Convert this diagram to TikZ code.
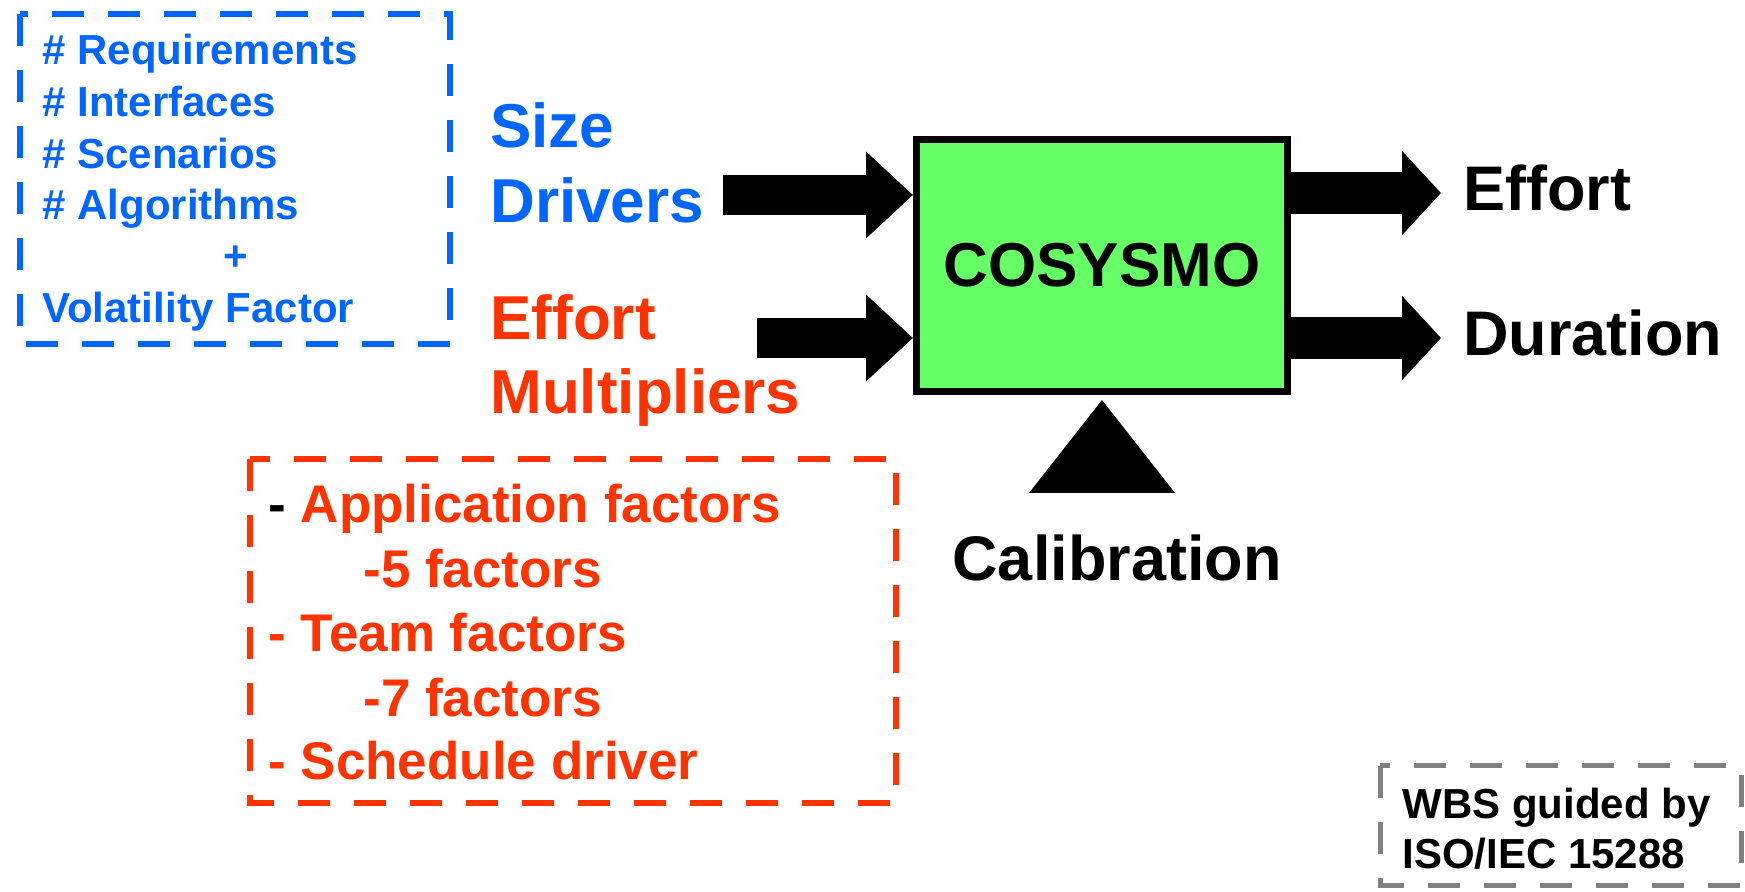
\documentclass[tikz,border=0pt]{standalone}
\usepackage{fontspec}
\setmainfont{Liberation Sans}
\usetikzlibrary{arrows.meta}
\definecolor{size_blue}{RGB}{0,102,255}
\definecolor{mult_red}{RGB}{255,51,0}
\definecolor{model_green}{RGB}{102,255,102}
\definecolor{wbs_gray}{RGB}{128,128,128}

\begin{document}
\begin{tikzpicture}[x=0.5pt,y=-0.5pt]
    \tikzstyle{txt}=[inner sep=0pt, anchor=base west]
    \tikzstyle{item_blue}=[style=txt, text=size_blue, font=\fontsize{21pt}{25pt}\selectfont\bfseries]
    \tikzstyle{item_red}=[style=txt, text=mult_red, font=\fontsize{26.5pt}{32pt}\selectfont\bfseries]
    \tikzstyle{head_lbl}=[style=txt, font=\fontsize{31pt}{37pt}\selectfont\bfseries]
    \tikzstyle{out_lbl}=[style=txt, text=black, font=\fontsize{31.5pt}{38pt}\selectfont\bfseries]
    \tikzstyle{wbs_lbl}=[style=txt, text=black, font=\fontsize{21pt}{25pt}\selectfont\bfseries]
    \tikzstyle{box_dash}=[line width=3pt, dash pattern=on 16pt off 12pt]
    \tikzstyle{model_box}=[draw=black, line width=3.5pt, fill=model_green, minimum width=185.5pt, minimum height=126pt, inner sep=0pt, font=\fontsize{31pt}{37pt}\selectfont\bfseries]
    \tikzstyle{block_arrow}=[line width=20pt, -{Triangle[length=23.5pt, width=42pt]}]
    \tikzstyle{block_out}=[line width=21pt, -{Triangle[length=19.5pt, width=41pt]}]

    \useasboundingbox (0,0) rectangle (1745,892);

    % size drivers
    \draw[box_dash, size_blue] (20,14) rectangle (450,344);
    \foreach \t [count=\i from 0] in {\# Requirements, \# Interfaces, \# Scenarios, \# Algorithms}
        \node[item_blue] (drv\i) at (42,{65+51.6*\i}) {\t};
    \node[item_blue, anchor=base] (plus) at (236,271) {+};
    \node[item_blue]              (vol)  at (42,323)  {Volatility Factor};
    \node[head_lbl, text=size_blue] (size)    at (490,148) {Size};
    \node[head_lbl, text=size_blue] (drivers) at (490,223) {Drivers};

    % effort multipliers
    \node[head_lbl, text=mult_red] (effin) at (490,340) {Effort};
    \node[head_lbl, text=mult_red] (mult)  at (490,414) {Multipliers};
    \draw[box_dash, mult_red] (250,459) rectangle (896,803);
    \node[item_red] (app)   at (268,523) {\textcolor{black}{-} Application factors};
    \node[item_red] (app5)  at (363,588) {-5 factors};
    \node[item_red] (team)  at (268,651) {- Team factors};
    \node[item_red] (team7) at (363,716) {-7 factors};
    \node[item_red] (sched) at (268,779) {- Schedule driver};

    % model
    \node[model_box] (cosysmo) at (1102,265.5) {COSYSMO};
    \node[out_lbl] (effort)   at (1463,211) {Effort};
    \node[out_lbl] (duration) at (1463,356) {Duration};
    \node[out_lbl, anchor=base] (calib) at (1117,581) {Calibration};
    \fill (cosysmo.south) ++(0,5) -- ++(73,93) -- ++(-146,0) -- cycle;

    \coordinate (size_in)   at (723,195);
    \coordinate (mult_in)   at (757,338);
    \coordinate (effort_at) at (1441,193);
    \coordinate (dur_at)    at (1441,338);
    \path
     (size_in) edge[block_arrow] (cosysmo.west |- size_in)
     (mult_in) edge[block_arrow] (cosysmo.west |- mult_in)
     (cosysmo.east |- effort_at) edge[block_out] (effort_at)
     (cosysmo.east |- dur_at)    edge[block_out] (dur_at)
     ;

    % wbs
    \draw[wbs_gray, line width=2.5pt, dash pattern=on 16pt off 12pt] (1380,765.5) rectangle (1741,885.5);
    \node[wbs_lbl] (wbs) at (1402,818) {WBS guided by};
    \node[wbs_lbl] (iso) at (1402,868) {ISO/IEC 15288};
\end{tikzpicture}
\end{document}
